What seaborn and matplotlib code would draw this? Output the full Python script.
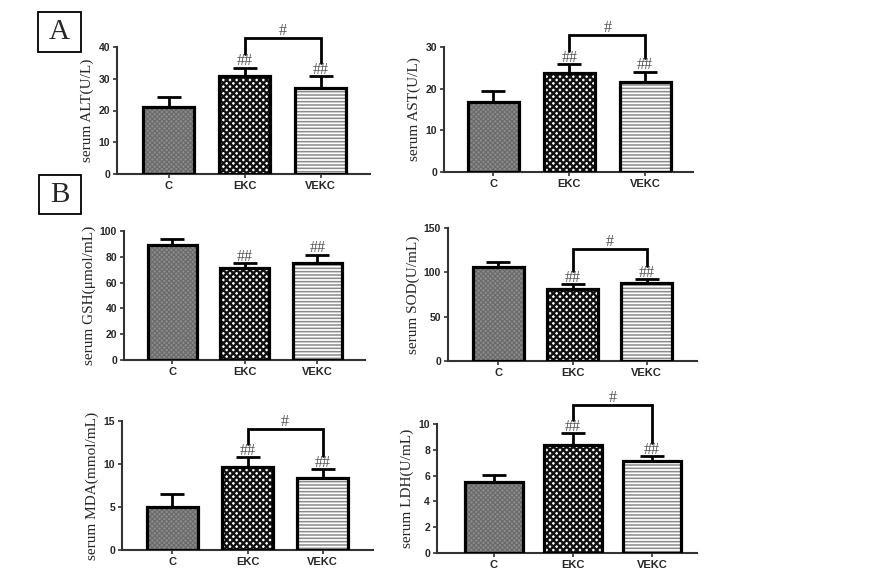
import numpy as np
import pandas as pd
import matplotlib
matplotlib.use("Agg")
import matplotlib.pyplot as plt
import seaborn as sns
from matplotlib.patches import Rectangle

# ---------------- data ----------------
groups = ["C", "EKC", "VEKC"]

alt_mean = [21.0, 30.8, 27.2]
alt_err = [3.2, 2.7, 3.6]
ast_mean = [16.9, 23.8, 21.7]
ast_err = [2.6, 2.1, 2.4]
gsh_mean = [89.5, 71.0, 75.0]
gsh_err = [4.0, 4.0, 6.5]
sod_mean = [106.0, 81.5, 87.5]
sod_err = [6.0, 5.0, 4.5]
mda_mean = [5.0, 9.6, 8.4]
mda_err = [1.5, 1.2, 1.0]
ldh_mean = [5.5, 8.4, 7.15]
ldh_err = [0.55, 0.9, 0.35]

sig_marks = ["", "##", "##"]

ylabels = ["serum ALT(U/L)", "serum AST(U/L)", "serum GSH(\u03bcmol/mL)",
           "serum SOD(U/mL)", "serum MDA(mmol/mL)", "serum LDH(U/mL)"]
ymaxes = [40, 30, 100, 150, 15, 10]
ysteps = [10, 10, 20, 50, 5, 2]
bracket_levels = [42.8, 32.9, None, 126, 14.1, 11.5]

means = [alt_mean, ast_mean, gsh_mean, sod_mean, mda_mean, ldh_mean]
errs = [alt_err, ast_err, gsh_err, sod_err, mda_err, ldh_err]

# ---------------- layout (pixels) ----------------
W, H = 872, 586
# left, right, y of ymax, y of zero
boxes = [(117, 370, 47, 174), (444, 693, 47, 172),
         (124, 365, 231, 360), (448, 697, 228, 361),
         (122, 373, 421, 550), (437, 697, 424, 553)]
xlims = [(-0.68, 2.65), (-0.65, 2.63), (-0.67, 2.66),
         (-0.68, 2.68), (-0.67, 2.67), (-0.72, 2.57)]
widths = [0.67, 0.67, 0.68, 0.68, 0.68, 0.73]

sns.set_style("white")
plt.rcParams["hatch.linewidth"] = 1.1
serif = ["Liberation Serif", "DejaVu Serif"]
sans = ["Liberation Sans", "DejaVu Sans"]

styles = [
    dict(face="#8a8a8a", hatch="xxxxxxx", hc="#6a6a6a", hlw=0.8),
    dict(face="white", hatch="xxxxx", hc="#111111", hlw=1.7),
    dict(face="white", hatch="-----", hc="#8a8a8a", hlw=1.1),
]

fig = plt.figure(figsize=(W / 100, H / 100), dpi=100)

for i in range(6):
    l, r, t, z = boxes[i]
    ax = fig.add_axes([l / W, 1 - z / H, (r - l) / W, (z - t) / H])
    ymax = ymaxes[i]
    px = ymax / (z - t)  # data units per pixel
    df = pd.DataFrame({"group": groups, "value": means[i]})
    sns.barplot(data=df, x="group", y="value", ax=ax, width=widths[i],
                errorbar=None, color="white", order=groups)
    patches = list(ax.patches)
    centers = []
    tops = []
    for p, st, m, e in zip(patches, styles, means[i], errs[i]):
        p.set_facecolor(st["face"])
        p.set_edgecolor(st["hc"])
        p.set_hatch(st["hatch"])
        if hasattr(p, "set_hatch_linewidth"):
            p.set_hatch_linewidth(st["hlw"])
        p.set_linewidth(0)
        ax.add_patch(Rectangle((p.get_x(), p.get_y()), p.get_width(), p.get_height(),
                               fill=False, ec="black", lw=2.3, zorder=4))
        centers.append(p.get_x() + p.get_width() / 2)
        tops.append(m + e)
    ax.errorbar(centers, means[i], yerr=[np.zeros(3), errs[i]], fmt="none",
                ecolor="black", elinewidth=2, capsize=8.5, capthick=2, zorder=3)
    for c, tp, s in zip(centers, tops, sig_marks):
        if s:
            ax.text(c, tp + 2.5 * px, s, ha="center", va="baseline",
                    color="#555555", fontsize=11.5, family=serif, zorder=5,
                    clip_on=False)
    bl = bracket_levels[i]
    if bl is not None:
        lo1 = tops[1] + 13.5 * px
        lo2 = tops[2] + 13.5 * px
        ax.plot([centers[1], centers[1], centers[2], centers[2]],
                [lo1, bl, bl, lo2], color="black", lw=2, clip_on=False,
                solid_joinstyle="miter", zorder=5)
        ax.text((centers[1] + centers[2]) / 2, bl + 3 * px, "#",
                ha="center", va="baseline", color="#555555", fontsize=11.5,
                family=serif, clip_on=False)
    ax.set_xlim(*xlims[i])
    ax.set_ylim(0, ymax)
    ax.set_yticks(np.arange(0, ymax + 0.001, ysteps[i]))
    ax.set_yticklabels([f"{v:g}" for v in np.arange(0, ymax + 0.001, ysteps[i])],
                       fontsize=7.5, fontweight="bold", family=sans)
    ax.set_xticks(range(3))
    ax.set_xticklabels(groups, fontsize=8, fontweight="bold", family=sans)
    ax.set_xlabel("")
    ax.set_ylabel(ylabels[i], fontsize=11, family=serif, labelpad=3)
    for side in ["top", "right"]:
        ax.spines[side].set_visible(False)
    for side in ["left", "bottom"]:
        ax.spines[side].set_linewidth(1.5)
        ax.spines[side].set_color("#333333")
    ax.tick_params(axis="both", which="major", direction="out", length=3,
                   width=1.2, color="#333333", left=True, bottom=True, pad=2)
    ax.set_facecolor("none")

# panel letters
for letter, (x0, y0, x1, y1) in [("A", (38, 12, 81, 52)), ("B", (39, 175, 81, 214))]:
    fig.add_artist(Rectangle((x0 / W, 1 - y1 / H), (x1 - x0) / W, (y1 - y0) / H,
                             transform=fig.transFigure, fill=False, ec="black", lw=1.3))
    fig.text((x0 + x1) / 2 / W, 1 - (y0 + y1) / 2 / H, letter, ha="center",
             va="center", fontsize=21, family=serif)

fig.savefig("out.png", dpi=100)
